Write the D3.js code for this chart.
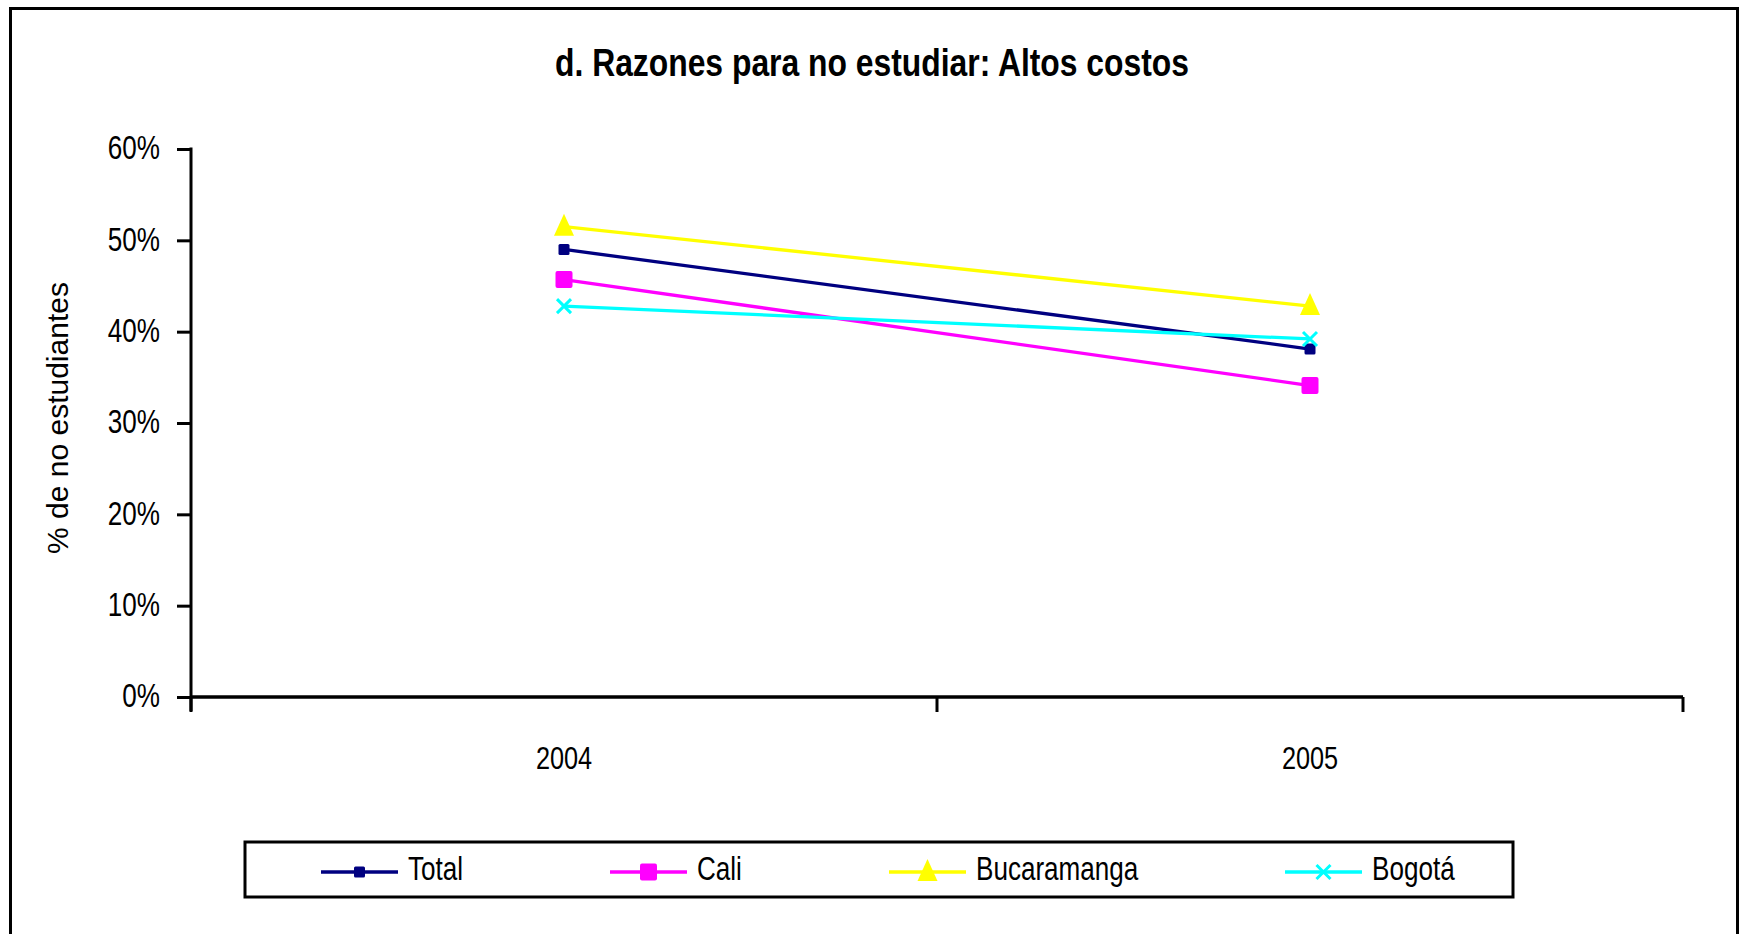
<!DOCTYPE html>
<html lang="es">
<head>
    <meta charset="utf-8">
    <title>Razones para no estudiar: Altos costos</title>
    <script type="text/javascript" src="https://cdn.jsdelivr.net/npm/d3@7/dist/d3.min.js"></script>
    <style>
        body { margin: 0; background: #fff; }
        svg { display: block; }
    </style>
</head>
<body>
<script type="text/javascript">
    var years = ["2004", "2005"];
    var seriesNames = ["Total", "Cali", "Bucaramanga", "Bogotá"];
    var total = [0.490, 0.381];
    var cali = [0.457, 0.341];
    var bucaramanga = [0.515, 0.428];
    var bogota = [0.428, 0.392];
    var yTicks = [0, 0.1, 0.2, 0.3, 0.4, 0.5, 0.6];

    var colors = ["#000080", "#ff00ff", "#ffff00", "#00ffff"];
    var symbols = ["square", "bigsquare", "triangle", "cross"];
    var allValues = [total, cali, bucaramanga, bogota];

    var w = 1742;
    var h = 934;
    var font = "'Liberation Sans', Arial, sans-serif";

    // no narrow face installed, so squeeze glyphs horizontally
    function squeeze(sel, k) {
        sel.each(function() {
            var len = this.getComputedTextLength();
            this.setAttribute("textLength", len * k);
            this.setAttribute("lengthAdjust", "spacingAndGlyphs");
        });
    }

    var svg = d3.select("body")
        .append("svg")
        .attr("width", w)
        .attr("height", h);

    // outer frame (bottom edge off the picture)
    svg.append("path")
        .attr("d", "M10.5,940 V8.5 H1737.5 V940")
        .attr("fill", "none")
        .attr("stroke", "#000")
        .attr("stroke-width", 3);

    svg.append("text")
        .text("d. Razones para no estudiar: Altos costos")
        .attr("x", 872)
        .attr("y", 76)
        .attr("text-anchor", "middle")
        .attr("font-family", font)
        .attr("font-weight", "bold")
        .attr("font-size", "39px")
        .attr("textLength", 634)
        .attr("lengthAdjust", "spacingAndGlyphs");

    var xScale = d3.scalePoint()
        .domain(years)
        .range([191, 1683])
        .padding(0.5);

    var yScale = d3.scaleLinear()
        .domain([0, 0.6])
        .range([697, 149]);

    // y axis
    var yAxis = d3.axisLeft(yScale)
        .tickValues(yTicks)
        .tickFormat(d3.format(".0%"))
        .tickSize(14)
        .tickPadding(17);
    var gy = svg.append("g")
        .attr("transform", "translate(191,0)")
        .call(yAxis);
    gy.select(".domain").attr("stroke-width", 3).attr("d", "M0,147.5V711");
    gy.selectAll(".tick line").attr("stroke-width", 3);
    gy.selectAll(".tick text")
        .attr("font-family", font)
        .attr("font-size", "33px")
        .attr("fill", "#000")
        .attr("dy", "0.3em")
        .call(squeeze, 0.79);

    // x axis with ticks between categories
    svg.append("line")
        .attr("x1", 191).attr("x2", 1683)
        .attr("y1", 697).attr("y2", 697)
        .attr("stroke", "#000")
        .attr("stroke-width", 3.5);
    var bounds = [191, (xScale(years[0]) + xScale(years[1])) / 2, 1683];
    svg.selectAll(".xtick")
        .data(bounds)
        .enter()
        .append("line")
        .attr("class", "xtick")
        .attr("x1", function(d) { return d; })
        .attr("x2", function(d) { return d; })
        .attr("y1", 697)
        .attr("y2", 712)
        .attr("stroke", "#000")
        .attr("stroke-width", 3);
    svg.selectAll(".xlabel")
        .data(years)
        .enter()
        .append("text")
        .attr("class", "xlabel")
        .text(function(d) { return d; })
        .attr("x", function(d) { return xScale(d); })
        .attr("y", 769)
        .attr("text-anchor", "middle")
        .attr("font-family", font)
        .attr("font-size", "32px")
        .call(squeeze, 0.79);

    svg.append("text")
        .text("% de no estudiantes")
        .attr("transform", "translate(68,418) rotate(-90)")
        .attr("text-anchor", "middle")
        .attr("font-family", font)
        .attr("font-size", "30px");

    function drawMarker(g, type, color, x, y) {
        if (type === "square") {
            g.append("rect")
                .attr("x", x - 5.5).attr("y", y - 5.5)
                .attr("width", 11).attr("height", 11)
                .attr("rx", 1.5)
                .attr("fill", color);
        } else if (type === "bigsquare") {
            g.append("rect")
                .attr("x", x - 8.5).attr("y", y - 8.5)
                .attr("width", 17).attr("height", 17)
                .attr("rx", 2)
                .attr("fill", color);
        } else if (type === "triangle") {
            g.append("path")
                .attr("d", "M" + x + "," + (y - 13) + " L" + (x + 10) + "," + (y + 9) + " L" + (x - 10) + "," + (y + 9) + " Z")
                .attr("fill", color);
        } else {
            g.append("path")
                .attr("d", "M" + (x - 7) + "," + (y - 7) + " L" + (x + 7) + "," + (y + 7) + " M" + (x + 7) + "," + (y - 7) + " L" + (x - 7) + "," + (y + 7))
                .attr("stroke", color)
                .attr("stroke-width", 3)
                .attr("fill", "none");
        }
    }

    var line = d3.line()
        .x(function(d, i) { return xScale(years[i]); })
        .y(function(d) { return yScale(d); });

    allValues.forEach(function(vals, s) {
        var g = svg.append("g");
        g.append("path")
            .datum(vals)
            .attr("d", line)
            .attr("fill", "none")
            .attr("stroke", colors[s])
            .attr("stroke-width", 3.3);
        vals.forEach(function(v, i) {
            drawMarker(g, symbols[s], colors[s], xScale(years[i]), yScale(v));
        });
    });

    // legend
    svg.append("rect")
        .attr("x", 245).attr("y", 842)
        .attr("width", 1268).attr("height", 55)
        .attr("fill", "#fff")
        .attr("stroke", "#000")
        .attr("stroke-width", 3);
    var legendX = [321, 610, 889, 1285];
    seriesNames.forEach(function(name, s) {
        var g = svg.append("g");
        var x0 = legendX[s];
        g.append("line")
            .attr("x1", x0).attr("x2", x0 + 77)
            .attr("y1", 872).attr("y2", 872)
            .attr("stroke", colors[s])
            .attr("stroke-width", 3.3);
        drawMarker(g, symbols[s], colors[s], x0 + 38.5, 872);
        g.append("text")
            .text(name)
            .attr("x", x0 + 87)
            .attr("y", 868)
            .attr("dy", "0.36em")
            .attr("font-family", font)
            .attr("font-size", "33px")
            .call(squeeze, 0.79);
    });
</script>
</body>
</html>
